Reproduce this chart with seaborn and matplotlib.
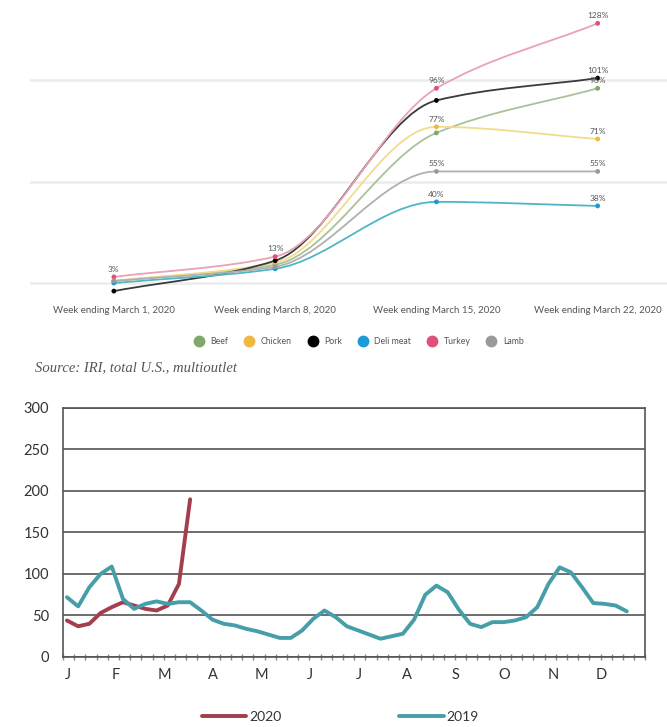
import numpy as np
import pandas as pd
import matplotlib
matplotlib.use("Agg")
import matplotlib.pyplot as plt
from matplotlib.path import Path
from matplotlib.patches import PathPatch
from matplotlib.lines import Line2D
import seaborn as sns

# ---- top chart: weekly % change in meat sales vs year ago ----
week_labels = ["Week ending March 1, 2020", "Week ending March 8, 2020",
               "Week ending March 15, 2020", "Week ending March 22, 2020"]
beef = [1, 9, 74, 96]
chicken = [1, 10, 77, 71]
pork = [-4, 11, 90, 101]
deli_meat = [0, 7, 40, 38]
turkey = [3, 13, 96, 128]
lamb = [1, 8, 55, 55]

products = ["Beef", "Chicken", "Pork", "Deli meat", "Turkey", "Lamb"]
marker_colors = ["#7fa86a", "#f0b840", "#000000", "#1a9ad6", "#e0507a", "#999999"]
line_colors = ["#a9c29a", "#f0dc8c", "#3a3a3a", "#4fb6c8", "#eaa2b4", "#b0b0b0"]

# ---- bottom chart: weekly index, 2019 vs 2020 ----
months = ["J", "F", "M", "A", "M", "J", "J", "A", "S", "O", "N", "D"]
idx_2019 = [72, 61, 84, 100, 109, 70, 58, 64, 67, 64, 66, 66, 56, 45, 40, 38, 34,
            31, 27, 23, 23, 32, 46, 56, 48, 37, 32, 27, 22, 25, 28, 45, 75, 86, 78,
            57, 40, 36, 42, 42, 44, 48, 60, 88, 108, 102, 84, 65, 64, 62, 55]
idx_2020 = [44, 37, 40, 53, 60, 66, 62, 58, 56, 62, 88, 190]


def smooth_path(xs, ys):
    # monotone cubic bezier through the points (rendering only, like a spline connector)
    xs = np.asarray(xs, float)
    ys = np.asarray(ys, float)
    d = np.diff(ys) / np.diff(xs)
    m = np.zeros_like(ys)
    m[0], m[-1] = d[0], d[-1]
    for i in range(1, len(ys) - 1):
        m[i] = 0 if d[i - 1] * d[i] <= 0 else 2 / (1 / d[i - 1] + 1 / d[i])
    verts = [(xs[0], ys[0])]
    codes = [Path.MOVETO]
    for i in range(len(xs) - 1):
        h = xs[i + 1] - xs[i]
        verts += [(xs[i] + h / 3, ys[i] + m[i] * h / 3),
                  (xs[i + 1] - h / 3, ys[i + 1] - m[i + 1] * h / 3),
                  (xs[i + 1], ys[i + 1])]
        codes += [Path.CURVE4] * 3
    return Path(verts, codes)


sns.set_theme(style="white")
plt.rcParams["font.family"] = ["Lato", "DejaVu Sans"]

fig = plt.figure(figsize=(6.67, 7.27), dpi=100)

# top chart
ax1 = fig.add_axes([0.045, 0.594, 0.955, 0.392])
series = [beef, chicken, pork, deli_meat, turkey, lamb]
x_pos = np.arange(len(week_labels))
rows = []
for name, vals in zip(products, series):
    for i, v in enumerate(vals):
        rows.append({"week": i, "product": name, "pct": v})
df_top = pd.DataFrame(rows)

for vals, lc in zip(series, line_colors):
    ax1.add_patch(PathPatch(smooth_path(x_pos, vals), facecolor="none",
                            edgecolor=lc, lw=1.3, zorder=2))
sns.scatterplot(data=df_top, x="week", y="pct", hue="product", hue_order=products,
                palette=marker_colors, s=12, edgecolor="none", legend=False,
                ax=ax1, zorder=3)

# data labels that show in the original (others overlap and are hidden)
shown = {(4, 0), (4, 1), (4, 2), (1, 2), (5, 2), (3, 2),
         (4, 3), (2, 3), (0, 3), (1, 3), (5, 3), (3, 3)}
for si, vals in enumerate(series):
    for i, v in enumerate(vals):
        if (si, i) in shown:
            ax1.annotate(f"{v}%", (i, v), xytext=(0, 3), textcoords="offset points",
                         ha="center", va="bottom", fontsize=6, color="#555555")

ax1.set_xlim(-0.52, 3.43)
ax1.set_ylim(-6, 134.5)
ax1.set_yticks([0, 50, 100])
ax1.set_yticklabels([])
ax1.set_xticks(x_pos)
ax1.set_xticklabels(week_labels, fontsize=7, color="#555555")
ax1.tick_params(axis="both", length=0)
ax1.tick_params(axis="x", pad=8)
ax1.grid(axis="y", color="#ececec", lw=1.8)
ax1.set_xlabel("")
ax1.set_ylabel("")
for s in ax1.spines.values():
    s.set_visible(False)

handles = [Line2D([0], [0], marker="o", ls="none", markersize=7.5,
                  markerfacecolor=c, markeredgecolor=c) for c in marker_colors]
fig.legend(handles, products, loc="center", bbox_to_anchor=(0.535, 0.5296), ncol=6,
           frameon=False, fontsize=6.3, handletextpad=0.3, columnspacing=1.4,
           labelcolor="#555555")

fig.text(0.052, 0.494, "Source: IRI, total U.S., multioutlet", family="Liberation Serif",
         style="italic", fontsize=10.5, color="#555555", va="center")

# bottom chart
ax2 = fig.add_axes([0.0945, 0.0963, 0.873, 0.3425])
df_b = pd.concat([
    pd.DataFrame({"week": np.arange(1, len(idx_2020) + 1), "value": idx_2020, "year": "2020"}),
    pd.DataFrame({"week": np.arange(1, len(idx_2019) + 1), "value": idx_2019, "year": "2019"}),
])
sns.lineplot(data=df_b, x="week", y="value", hue="year", hue_order=["2020", "2019"],
             palette=["#a23e4e", "#469fa8"], lw=2.8, ax=ax2, legend=False)

ax2.set_xlim(0.65, 52.65)
ax2.set_ylim(0, 300)
ax2.set_yticks(np.arange(0, 301, 50))
ax2.set_xticks(0.65 + np.arange(12) * 52 / 12 + 0.4)
ax2.set_xticklabels(months, fontsize=10.5, color="#333333")
ax2.set_xticks(0.65 + np.arange(53), minor=True)
ax2.tick_params(axis="y", length=0, pad=10, labelsize=10.5, labelcolor="#333333")
ax2.tick_params(axis="x", which="major", length=0, pad=8)
ax2.tick_params(axis="x", which="minor", length=4, direction="inout", color="#888888", bottom=True)
ax2.grid(axis="y", color="#555555", lw=1.2)
ax2.set_xlabel("")
ax2.set_ylabel("")
for s in ax2.spines.values():
    s.set_color("#555555")
    s.set_linewidth(1.2)

leg_handles = [Line2D([0], [0], color="#a23e4e", lw=2.8),
               Line2D([0], [0], color="#469fa8", lw=2.8)]
fig.legend(leg_handles, ["2020", "2019"], loc="center", bbox_to_anchor=(0.51, 0.014), ncol=2,
           frameon=False, fontsize=10, handlelength=3.2, handletextpad=0.2,
           columnspacing=8.5, labelcolor="#333333")

fig.savefig("out.png", dpi=100)
